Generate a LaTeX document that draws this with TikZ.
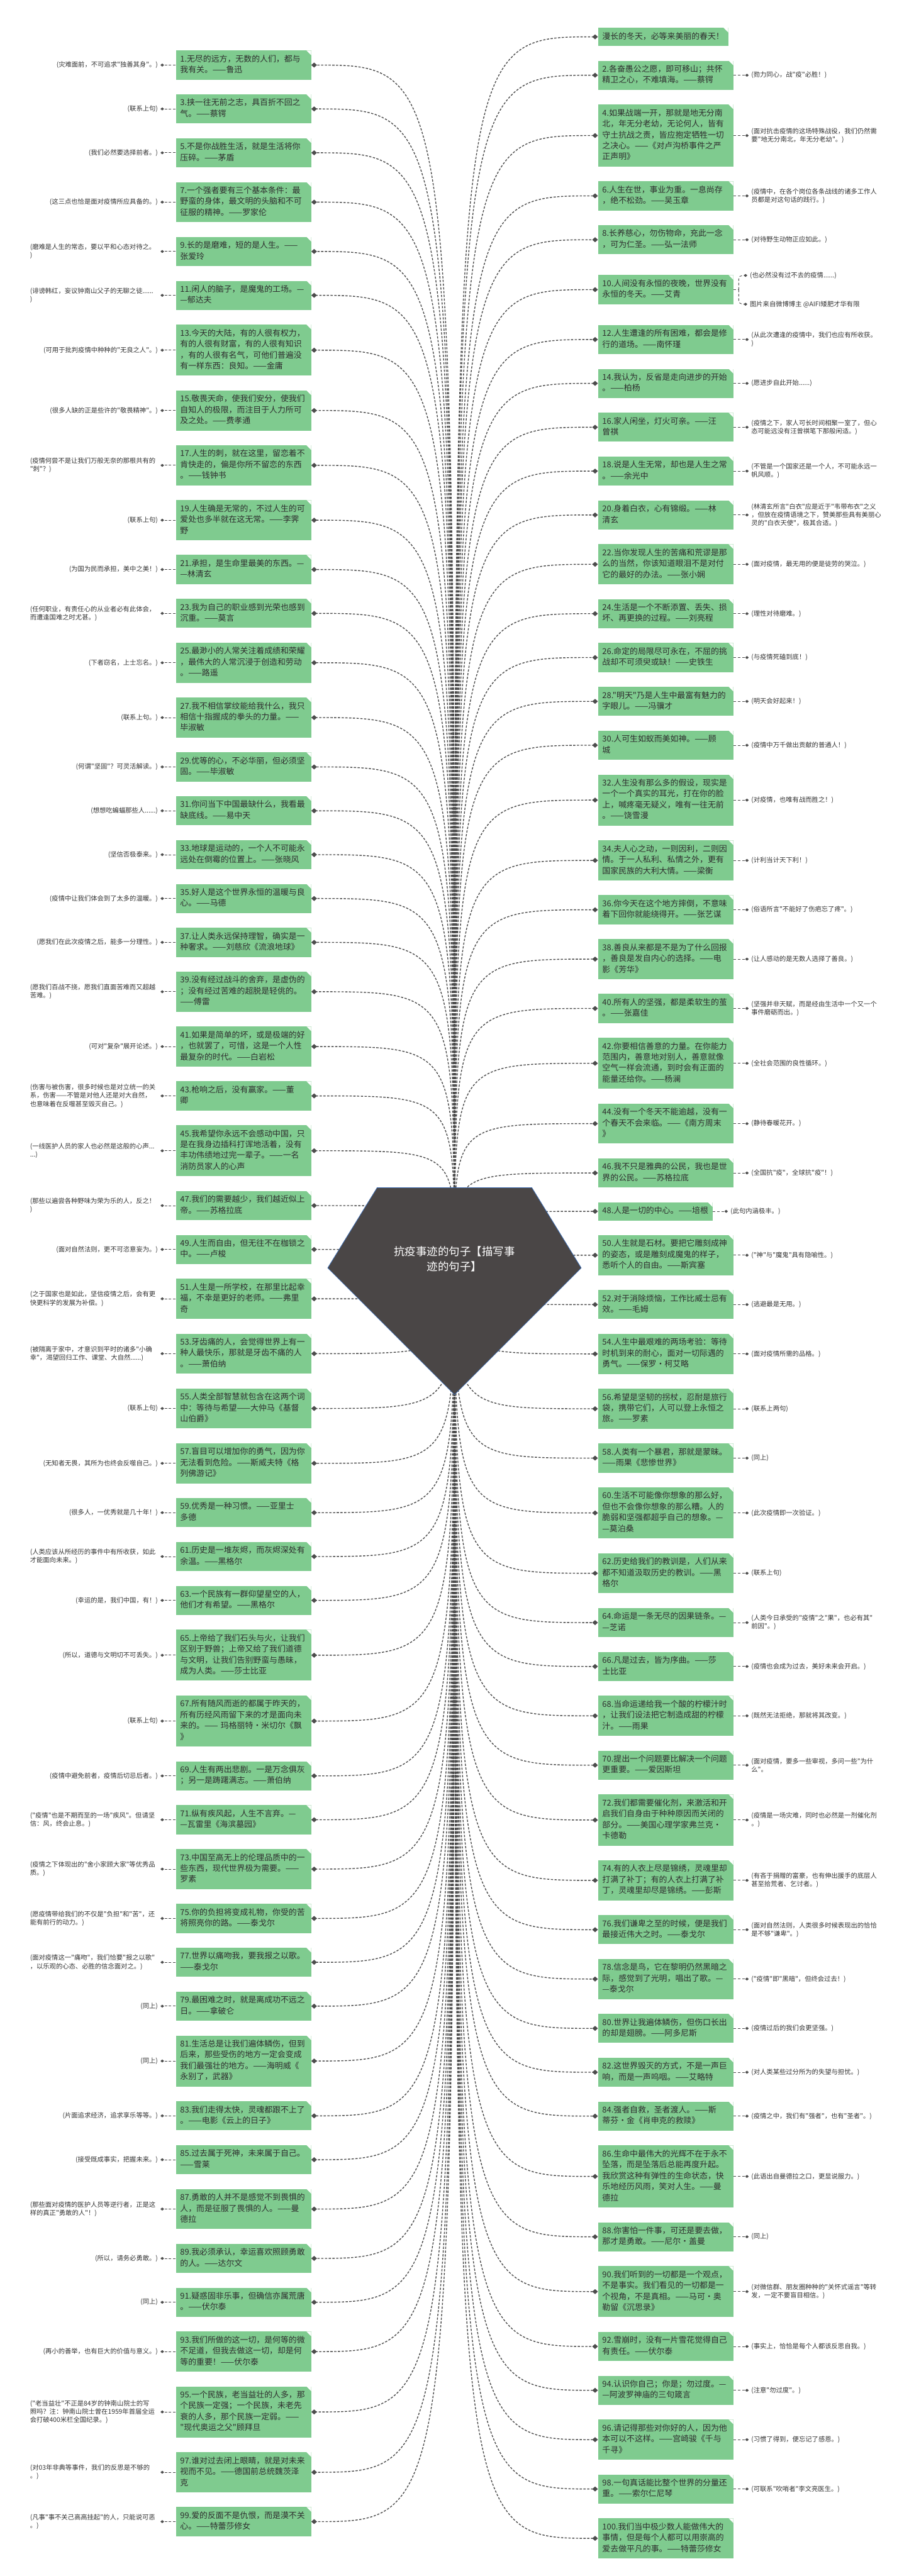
\documentclass[tikz,border=0pt]{standalone}
\usepackage{fontspec}
\newfontfamily\cjk{Noto Sans CJK SC}
\usetikzlibrary{positioning,arrows.meta,backgrounds}
\definecolor{leaf}{HTML}{7FCB8F}
\definecolor{ink}{HTML}{2E2E2E}
\definecolor{slate}{HTML}{4A4646}
\definecolor{rim}{HTML}{3D6DB3}
\definecolor{wire}{HTML}{4D4D4D}
\definecolor{memo}{HTML}{333333}
\tikzset{leafbox/.style={fill=leaf,text=ink,align=left,inner xsep=.24cm,inner ysep=.2cm,font=\cjk\fontsize{13}{17.6}\selectfont,execute at begin node=\strut,execute at end node=\strut,path picture={\fill[white] (path picture bounding box.north east) -- ++(-.26,0) -- ++(.26,-.26) -- cycle;}},quote/.style={leafbox,text width=7.14cm},note/.style={text=memo,align=left,inner sep=.14cm,font=\cjk\fontsize{10.4}{13.2}\selectfont},wide note/.style={note,text width=7.2cm},hub/.style={text=white,align=center,font=\cjk\fontsize{17.6}{24.4}\selectfont},link/.style={draw=wire,line width=1.4pt,dash pattern=on 3.6pt off 2.4pt,-{Diamond[length=.32cm,width=.28cm]}},notedash/.style={draw=wire,line width=.9pt,dash pattern=on 4pt off 3pt},notelink/.style={notedash,-{Diamond[length=.2cm,width=.17cm]}}}

\begin{document}
\begin{tikzpicture}[node distance=.82cm]
\useasboundingbox (0,0) rectangle (51.2,-145.14);
% centre
\filldraw[fill=slate,draw=rim,line width=.8pt] (21.24,-66.92) -- (29.96,-66.92) -- (32.74,-71.44) -- (25.6,-78.58) -- (18.46,-71.44) -- cycle;
\node[hub] (hub) at (25.6,-70.92) {抗疫事迹的句子【描写事\\迹的句子】};
% left column
\node[quote,anchor=north west] (q1) at (9.9,-2.84) {1.无尽的远方，无数的人们，都与\\我有关。——鲁迅};
\node[quote,below=of q1] (q3) {3.挟一往无前之志，具百折不回之\\气。——蔡锷};
\node[quote,below=of q3] (q5) {5.不是你战胜生活，就是生活将你\\压碎。——茅盾};
\node[quote,below=of q5] (q7) {7.一个强者要有三个基本条件：最\\野蛮的身体，最文明的头脑和不可\\征服的精神。——罗家伦};
\node[quote,below=of q7] (q9) {9.长的是磨难，短的是人生。——\\张爱玲};
\node[quote,below=of q9] (q11) {11.闲人的脑子，是魔鬼的工场。—\\—郁达夫};
\node[quote,below=of q11] (q13) {13.今天的大陆，有的人很有权力，\\有的人很有财富，有的人很有知识\\，有的人很有名气，可他们普遍没\\有一样东西：良知。——金庸};
\node[quote,below=of q13] (q15) {15.敬畏天命，使我们安分，使我们\\自知人的极限，而注目于人力所可\\及之处。——费孝通};
\node[quote,below=of q15] (q17) {17.人生的刺，就在这里，留恋着不\\肯快走的，偏是你所不留恋的东西\\。——钱钟书};
\node[quote,below=of q17] (q19) {19.人生确是无常的，不过人生的可\\爱处也多半就在这无常。——李霁\\野};
\node[quote,below=of q19] (q21) {21.承担，是生命里最美的东西。—\\—林清玄};
\node[quote,below=of q21] (q23) {23.我为自己的职业感到光荣也感到\\沉重。——莫言};
\node[quote,below=of q23] (q25) {25.最渺小的人常关注着成绩和荣耀\\，最伟大的人常沉浸于创造和劳动\\。——路遥};
\node[quote,below=of q25] (q27) {27.我不相信掌纹能给我什么，我只\\相信十指握成的拳头的力量。——\\毕淑敏};
\node[quote,below=of q27] (q29) {29.优等的心，不必华丽，但必须坚\\固。——毕淑敏};
\node[quote,below=of q29] (q31) {31.你问当下中国最缺什么，我看最\\缺底线。——易中天};
\node[quote,below=of q31] (q33) {33.地球是运动的，一个人不可能永\\远处在倒霉的位置上。——张晓风};
\node[quote,below=of q33] (q35) {35.好人是这个世界永恒的温暖与良\\心。——马德};
\node[quote,below=of q35] (q37) {37.让人类永远保持理智，确实是一\\种奢求。——刘慈欣《流浪地球》};
\node[quote,below=of q37] (q39) {39.没有经过战斗的舍弃，是虚伪的\\；没有经过苦难的超脱是轻佻的。\\——傅雷};
\node[quote,below=of q39] (q41) {41.如果是简单的坏，或是极端的好\\，也就罢了，可惜，这是一个人性\\最复杂的时代。——白岩松};
\node[quote,below=of q41] (q43) {43.枪响之后，没有赢家。——董\\卿};
\node[quote,below=of q43] (q45) {45.我希望你永远不会感动中国，只\\是在我身边插科打诨地活着，没有\\丰功伟绩地过完一辈子。——一名\\消防员家人的心声};
\node[quote,below=of q45] (q47) {47.我们的需要越少，我们越近似上\\帝。——苏格拉底};
\node[quote,below=of q47] (q49) {49.人生而自由，但无往不在枷锁之\\中。——卢梭};
\node[quote,below=of q49] (q51) {51.人生是一所学校，在那里比起幸\\福，不幸是更好的老师。——弗里\\奇};
\node[quote,below=of q51] (q53) {53.牙齿痛的人，会觉得世界上有一\\种人最快乐，那就是牙齿不痛的人\\。——萧伯纳};
\node[quote,below=of q53] (q55) {55.人类全部智慧就包含在这两个词\\中：等待与希望——大仲马《基督\\山伯爵》};
\node[quote,below=of q55] (q57) {57.盲目可以增加你的勇气，因为你\\无法看到危险。——斯威夫特《格\\列佛游记》};
\node[quote,below=of q57] (q59) {59.优秀是一种习惯。——亚里士\\多德};
\node[quote,below=of q59] (q61) {61.历史是一堆灰烬，而灰烬深处有\\余温。——黑格尔};
\node[quote,below=of q61] (q63) {63.一个民族有一群仰望星空的人，\\他们才有希望。——黑格尔};
\node[quote,below=of q63] (q65) {65.上帝给了我们石头与火，让我们\\区别于野兽；上帝又给了我们道德\\与文明，让我们告别野蛮与愚昧，\\成为人类。——莎士比亚};
\node[quote,below=of q65] (q67) {67.所有随风而逝的都属于昨天的，\\所有历经风雨留下来的才是面向未\\来的。——~玛格丽特•米切尔《飘\\》};
\node[quote,below=of q67] (q69) {69.人生有两出悲剧。一是万念俱灰\\；另一是踌躇满志。——萧伯纳};
\node[quote,below=of q69] (q71) {71.纵有疾风起，人生不言弃。—\\—瓦雷里《海滨墓园》};
\node[quote,below=of q71] (q73) {73.中国至高无上的伦理品质中的一\\些东西，现代世界极为需要。——\\罗素};
\node[quote,below=of q73] (q75) {75.你的负担将变成礼物，你受的苦\\将照亮你的路。——泰戈尔};
\node[quote,below=of q75] (q77) {77.世界以痛吻我，要我报之以歌。\\——泰戈尔};
\node[quote,below=of q77] (q79) {79.最困难之时，就是离成功不远之\\日。——拿破仑};
\node[quote,below=of q79] (q81) {81.生活总是让我们遍体鳞伤，但到\\后来，那些受伤的地方一定会变成\\我们最强壮的地方。——海明威《\\永别了，武器》};
\node[quote,below=of q81] (q83) {83.我们走得太快，灵魂都跟不上了\\。——电影《云上的日子》};
\node[quote,below=of q83] (q85) {85.过去属于死神，未来属于自己。\\——雪莱};
\node[quote,below=of q85] (q87) {87.勇敢的人并不是感觉不到畏惧的\\人，而是征服了畏惧的人。——曼\\德拉};
\node[quote,below=of q87] (q89) {89.我必须承认，幸运喜欢照顾勇敢\\的人。——达尔文};
\node[quote,below=of q89] (q91) {91.疑惑固非乐事，但确信亦属荒唐\\。——伏尔泰};
\node[quote,below=of q91] (q93) {93.我们所做的这一切，是何等的微\\不足道，但我去做这一切，却是何\\等的重要！——伏尔泰};
\node[quote,below=of q93] (q95) {95.一个民族，老当益壮的人多，那\\个民族一定强；一个民族，未老先\\衰的人多，那个民族一定弱。——\\"现代奥运之父"顾拜旦};
\node[quote,below=of q95] (q97) {97.谁对过去闭上眼睛，就是对未来\\视而不见。——德国前总统魏茨泽\\克};
\node[quote,below=of q97] (q99) {99.爱的反面不是仇恨，而是漠不关\\心。——特蕾莎修女};
% right column
\node[leafbox,anchor=north west] (q0) at (33.68,-1.56) {漫长的冬天，必等来美丽的春天！};
\node[quote,below=of q0.south west,anchor=north west] (q2) {2.各奋愚公之愿，即可移山；共怀\\精卫之心，不难填海。——蔡锷};
\node[quote,below=of q2] (q4) {4.如果战端一开，那就是地无分南\\北，年无分老幼，无论何人，皆有\\守土抗战之责，皆应抱定牺牲一切\\之决心。——《对卢沟桥事件之严\\正声明》};
\node[quote,below=of q4] (q6) {6.人生在世，事业为重。一息尚存\\，绝不松劲。——吴玉章};
\node[quote,below=of q6] (q8) {8.长养慈心，勿伤物命，充此一念\\，可为仁圣。——弘一法师};
\node[quote,below=1.16cm of q8] (q10) {10.人间没有永恒的夜晚，世界没有\\永恒的冬天。——艾青};
\node[quote,below=1.16cm of q10] (q12) {12.人生遭逢的所有困难，都会是修\\行的道场。——南怀瑾};
\node[quote,below=of q12] (q14) {14.我认为，反省是走向进步的开始\\。——柏杨};
\node[quote,below=of q14] (q16) {16.家人闲坐，灯火可亲。——汪\\曾祺};
\node[quote,below=of q16] (q18) {18.说是人生无常，却也是人生之常\\。——余光中};
\node[quote,below=of q18] (q20) {20.身着白衣，心有锦缎。——林\\清玄};
\node[quote,below=of q20] (q22) {22.当你发现人生的苦痛和荒谬是那\\么的当然，你该知道眼泪不是对付\\它的最好的办法。——张小娴};
\node[quote,below=of q22] (q24) {24.生活是一个不断添置、丢失、损\\坏、再更换的过程。——刘亮程};
\node[quote,below=of q24] (q26) {26.命定的局限尽可永在，不屈的挑\\战却不可须臾或缺！——史铁生};
\node[quote,below=of q26] (q28) {28."明天"乃是人生中最富有魅力的\\字眼儿。——冯骥才};
\node[quote,below=of q28] (q30) {30.人可生如蚁而美如神。——顾\\城};
\node[quote,below=of q30] (q32) {32.人生没有那么多的假设，现实是\\一个一个真实的耳光，打在你的脸\\上，喊疼毫无疑义，唯有一往无前\\。——饶雪漫};
\node[quote,below=of q32] (q34) {34.夫人心之动，一则因利，二则因\\情。于一人私利、私情之外，更有\\国家民族的大利大情。——梁衡};
\node[quote,below=of q34] (q36) {36.你今天在这个地方摔倒，不意味\\着下回你就能绕得开。——张艺谋};
\node[quote,below=of q36] (q38) {38.善良从来都是不是为了什么回报\\，善良是发自内心的选择。——电\\影《芳华》};
\node[quote,below=of q38] (q40) {40.所有人的坚强，都是柔软生的茧\\。——张嘉佳};
\node[quote,below=of q40] (q42) {42.你要相信善意的力量。在你能力\\范围内，善意地对别人，善意就像\\空气一样会流通，到时会有正面的\\能量还给你。——杨澜};
\node[quote,below=of q42] (q44) {44.没有一个冬天不能逾越，没有一\\个春天不会来临。——《南方周末\\》};
\node[quote,below=of q44] (q46) {46.我不只是雅典的公民，我也是世\\界的公民。——苏格拉底};
\node[leafbox,below=of q46.south west,anchor=north west] (q48) {48.人是一切的中心。——培根};
\node[quote,below=of q48.south west,anchor=north west] (q50) {50.人生就是石材。要把它雕刻成神\\的姿态，或是雕刻成魔鬼的样子，\\悉听个人的自由。——斯宾塞};
\node[quote,below=of q50] (q52) {52.对于消除烦恼，工作比威士忌有\\效。——毛姆};
\node[quote,below=of q52] (q54) {54.人生中最艰难的两场考验：等待\\时机到来的耐心，面对一切际遇的\\勇气。——保罗•柯艾略};
\node[quote,below=of q54] (q56) {56.希望是坚韧的拐杖，忍耐是旅行\\袋，携带它们，人可以登上永恒之\\旅。——罗素};
\node[quote,below=of q56] (q58) {58.人类有一个暴君，那就是蒙昧。\\——雨果《悲惨世界》};
\node[quote,below=of q58] (q60) {60.生活不可能像你想象的那么好，\\但也不会像你想象的那么糟。人的\\脆弱和坚强都超乎自己的想象。—\\—莫泊桑};
\node[quote,below=of q60] (q62) {62.历史给我们的教训是，人们从来\\都不知道汲取历史的教训。——黑\\格尔};
\node[quote,below=of q62] (q64) {64.命运是一条无尽的因果链条。—\\—芝诺};
\node[quote,below=of q64] (q66) {66.凡是过去，皆为序曲。——莎\\士比亚};
\node[quote,below=of q66] (q68) {68.当命运递给我一个酸的柠檬汁时\\，让我们设法把它制造成甜的柠檬\\汁。——雨果};
\node[quote,below=of q68] (q70) {70.提出一个问题要比解决一个问题\\更重要。——爱因斯坦};
\node[quote,below=of q70] (q72) {72.我们都需要催化剂，来激活和开\\启我们自身由于种种原因而关闭的\\部分。——美国心理学家弗兰克•\\卡德勒};
\node[quote,below=of q72] (q74) {74.有的人衣上尽是锦绣，灵魂里却\\打满了补丁；有的人衣上打满了补\\丁，灵魂里却尽是锦绣。——彭斯};
\node[quote,below=of q74] (q76) {76.我们谦卑之至的时候，便是我们\\最接近伟大之时。——泰戈尔};
\node[quote,below=of q76] (q78) {78.信念是鸟，它在黎明仍然黑暗之\\际，感觉到了光明，唱出了歌。—\\—泰戈尔};
\node[quote,below=of q78] (q80) {80.世界让我遍体鳞伤，但伤口长出\\的却是翅膀。——阿多尼斯};
\node[quote,below=of q80] (q82) {82.这世界毁灭的方式，不是一声巨\\响，而是一声呜咽。——艾略特};
\node[quote,below=of q82] (q84) {84.强者自救，圣者渡人。——斯\\蒂芬•金《肖申克的救赎》};
\node[quote,below=of q84] (q86) {86.生命中最伟大的光辉不在于永不\\坠落，而是坠落后总能再度升起。\\我欣赏这种有弹性的生命状态，快\\乐地经历风雨，笑对人生。——曼\\德拉};
\node[quote,below=of q86] (q88) {88.你害怕一件事，可还是要去做，\\那才是勇敢。——尼尔•盖曼};
\node[quote,below=of q88] (q90) {90.我们听到的一切都是一个观点，\\不是事实。我们看见的一切都是一\\个视角，不是真相。——马可•奥\\勒留《沉思录》};
\node[quote,below=of q90] (q92) {92.雪崩时，没有一片雪花觉得自己\\有责任。——伏尔泰};
\node[quote,below=of q92] (q94) {94.认识你自己；你是；勿过度。—\\—阿波罗神庙的三句箴言};
\node[quote,below=of q94] (q96) {96.请记得那些对你好的人，因为他\\本可以不这样。——宫崎骏《千与\\千寻》};
\node[quote,below=of q96] (q98) {98.一句真话能比整个世界的分量还\\重。——索尔仁尼琴};
\node[quote,below=of q98] (q100) {100.我们当中极少数人能做伟大的\\事情，但是每个人都可以用崇高的\\爱去做平凡的事。——特蕾莎修女};
% notes, left
\node[note,left=.86cm of q1] (n1) {(灾难面前，不可追求"独善其身"。)};
\node[note,left=.86cm of q3] (n3) {(联系上句)};
\node[note,left=.86cm of q5] (n5) {(我们必然要选择前者。)};
\node[note,left=.86cm of q7] (n7) {(这三点也恰是面对疫情所应具备的。)};
\node[wide note,left=.86cm of q9] (n9) {(磨难是人生的常态，要以平和心态对待之。\\)};
\node[wide note,left=.86cm of q11] (n11) {(诽谤韩红，妄议钟南山父子的无聊之徒......\\)};
\node[note,left=.86cm of q13] (n13) {(可用于批判疫情中种种的"无良之人"。)};
\node[note,left=.86cm of q15] (n15) {(很多人缺的正是些许的"敬畏精神"。)};
\node[wide note,left=.86cm of q17] (n17) {(疫情何尝不是让我们万般无奈的那根共有的\\"刺"？)};
\node[note,left=.86cm of q19] (n19) {(联系上句)};
\node[note,left=.86cm of q21] (n21) {(为国为民而承担，美中之美！)};
\node[wide note,left=.86cm of q23] (n23) {(任何职业，有责任心的从业者必有此体会，\\而遭逢国难之时尤甚。)};
\node[note,left=.86cm of q25] (n25) {(下者窃名，上士忘名。)};
\node[note,left=.86cm of q27] (n27) {(联系上句。)};
\node[note,left=.86cm of q29] (n29) {(何谓"坚固"？可灵活解读。)};
\node[note,left=.86cm of q31] (n31) {(想想吃蝙蝠那些人......)};
\node[note,left=.86cm of q33] (n33) {(坚信否极泰来。)};
\node[note,left=.86cm of q35] (n35) {(疫情中让我们体会到了太多的温暖。)};
\node[note,left=.86cm of q37] (n37) {(愿我们在此次疫情之后，能多一分理性。)};
\node[wide note,left=.86cm of q39] (n39) {(愿我们百战不挠，愿我们直面苦难而又超越\\苦难。)};
\node[note,left=.86cm of q41] (n41) {(可对"复杂"展开论述。)};
\node[wide note,left=.86cm of q43] (n43) {(伤害与被伤害，很多时候也是对立统一的关\\系，伤害——不管是对他人还是对大自然，\\也意味着在反噬甚至毁灭自己。)};
\node[wide note,left=.86cm of q45] (n45) {(一线医护人员的家人也必然是这般的心声...\\...)};
\node[wide note,left=.86cm of q47] (n47) {(那些以遍尝各种野味为荣为乐的人，反之！\\)};
\node[note,left=.86cm of q49] (n49) {(面对自然法则，更不可恣意妄为。)};
\node[wide note,left=.86cm of q51] (n51) {(之于国家也是如此，坚信疫情之后，会有更\\快更科学的发展为补偿。)};
\node[wide note,left=.86cm of q53] (n53) {(被隔离于家中，才意识到平时的诸多"小确\\幸"，渴望回归工作、课堂、大自然......)};
\node[note,left=.86cm of q55] (n55) {(联系上句)};
\node[note,left=.86cm of q57] (n57) {(无知者无畏，其所为也终会反噬自己。)};
\node[note,left=.86cm of q59] (n59) {(很多人，一优秀就是几十年！)};
\node[wide note,left=.86cm of q61] (n61) {(人类应该从所经历的事件中有所收获，如此\\才能面向未来。)};
\node[note,left=.86cm of q63] (n63) {(幸运的是，我们中国，有！)};
\node[note,left=.86cm of q65] (n65) {(所以，道德与文明切不可丢失。)};
\node[note,left=.86cm of q67] (n67) {(联系上句)};
\node[note,left=.86cm of q69] (n69) {(疫情中避免前者，疫情后切忌后者。)};
\node[wide note,left=.86cm of q71] (n71) {("疫情"也是不期而至的一场"疾风"。但请坚\\信：风，终会止息。)};
\node[wide note,left=.86cm of q73] (n73) {(疫情之下体现出的"舍小家顾大家"等优秀品\\质。)};
\node[wide note,left=.86cm of q75] (n75) {(愿疫情带给我们的不仅是"负担"和"苦"，还\\能有前行的动力。)};
\node[wide note,left=.86cm of q77] (n77) {(面对疫情这一"痛吻"，我们恰要"报之以歌"\\，以乐观的心态、必胜的信念面对之。)};
\node[note,left=.86cm of q79] (n79) {(同上)};
\node[note,left=.86cm of q81] (n81) {(同上)};
\node[note,left=.86cm of q83] (n83) {(片面追求经济，追求享乐等等。)};
\node[note,left=.86cm of q85] (n85) {(接受既成事实，把握未来。)};
\node[wide note,left=.86cm of q87] (n87) {(那些面对疫情的医护人员等逆行者，正是这\\样的真正"勇敢的人"！)};
\node[note,left=.86cm of q89] (n89) {(所以，请务必勇敢。)};
\node[note,left=.86cm of q91] (n91) {(同上)};
\node[note,left=.86cm of q93] (n93) {(再小的善举，也有巨大的价值与意义。)};
\node[wide note,left=.86cm of q95] (n95) {("老当益壮"不正是84岁的钟南山院士的写\\照吗？注：钟南山院士曾在1959年首届全运\\会打破400米栏全国纪录。)};
\node[wide note,left=.86cm of q97] (n97) {(对03年非典等事件，我们的反思是不够的\\。)};
\node[wide note,left=.86cm of q99] (n99) {(凡事"事不关己高高挂起"的人，只能说可恶\\。)};
% notes, right
\node[note,right=.86cm of q2] (n2) {(勠力同心，战"疫"必胜！)};
\node[wide note,right=.86cm of q4] (n4) {(面对抗击疫情的这场特殊战役，我们仍然需\\要"地无分南北，年无分老幼"。)};
\node[wide note,right=.86cm of q6] (n6) {(疫情中，在各个岗位各条战线的诸多工作人\\员都是对这句话的践行。)};
\node[note,right=.86cm of q8] (n8) {(对待野生动物正应如此。)};
\node[note,right=.78cm of q10,yshift=.8cm] (n10a) {(也必然没有过不去的疫情......)};
\node[note,right=.78cm of q10,yshift=-.82cm] (n10b) {图片来自微博博主 @AIFI矮肥才华有限};
\node[wide note,right=.86cm of q12] (n12) {(从此次遭逢的疫情中，我们也应有所收获。\\)};
\node[note,right=.86cm of q14] (n14) {(愿进步自此开始......)};
\node[wide note,right=.86cm of q16] (n16) {(疫情之下，家人可长时间相聚一室了，但心\\态可能远没有汪曾祺笔下那般闲适。)};
\node[wide note,right=.86cm of q18] (n18) {(不管是一个国家还是一个人，不可能永远一\\帆风顺。)};
\node[wide note,right=.86cm of q20] (n20) {(林清玄所言"白衣"应是近于"韦带布衣"之义\\，但放在疫情语境之下，赞美那些具有美丽心\\灵的"白衣天使"，极其合适。)};
\node[note,right=.86cm of q22] (n22) {(面对疫情，最无用的便是徒劳的哭泣。)};
\node[note,right=.86cm of q24] (n24) {(理性对待磨难。)};
\node[note,right=.86cm of q26] (n26) {(与疫情死磕到底！)};
\node[note,right=.86cm of q28] (n28) {(明天会好起来！)};
\node[note,right=.86cm of q30] (n30) {(疫情中万千做出贡献的普通人！)};
\node[note,right=.86cm of q32] (n32) {(对疫情，也唯有战而胜之！)};
\node[note,right=.86cm of q34] (n34) {(计利当计天下利！)};
\node[note,right=.86cm of q36] (n36) {(俗语所言"不能好了伤疤忘了疼"。)};
\node[note,right=.86cm of q38] (n38) {(让人感动的是无数人选择了善良。)};
\node[wide note,right=.86cm of q40] (n40) {(坚强并非天赋，而是经由生活中一个又一个\\事件磨砺而出。)};
\node[note,right=.86cm of q42] (n42) {(全社会范围的良性循环。)};
\node[note,right=.86cm of q44] (n44) {(静待春暖花开。)};
\node[note,right=.86cm of q46] (n46) {(全国抗"疫"，全球抗"疫"！)};
\node[note,right=.86cm of q48] (n48) {(此句内涵极丰。)};
\node[note,right=.86cm of q50] (n50) {("神"与"魔鬼"具有隐喻性。)};
\node[note,right=.86cm of q52] (n52) {(逃避最是无用。)};
\node[note,right=.86cm of q54] (n54) {(面对疫情所需的品格。)};
\node[note,right=.86cm of q56] (n56) {(联系上两句)};
\node[note,right=.86cm of q58] (n58) {(同上)};
\node[note,right=.86cm of q60] (n60) {(此次疫情即一次验证。)};
\node[note,right=.86cm of q62] (n62) {(联系上句)};
\node[wide note,right=.86cm of q64] (n64) {(人类今日承受的"疫情"之"果"，也必有其"\\前因"。)};
\node[note,right=.86cm of q66] (n66) {(疫情也会成为过去，美好未来会开启。)};
\node[note,right=.86cm of q68] (n68) {(既然无法拒绝，那就将其改变。)};
\node[wide note,right=.86cm of q70] (n70) {(面对疫情，要多一些审视，多问一些"为什\\么"。};
\node[wide note,right=.86cm of q72] (n72) {(疫情是一场灾难，同时也必然是一剂催化剂\\。)};
\node[wide note,right=.86cm of q74] (n74) {(有吝于捐赠的富豪，也有伸出援手的底层人\\甚至拾荒者、乞讨者。)};
\node[wide note,right=.86cm of q76] (n76) {(面对自然法则，人类很多时候表现出的恰恰\\是不够"谦卑"。)};
\node[note,right=.86cm of q78] (n78) {("疫情"即"黑暗"，但终会过去！)};
\node[note,right=.86cm of q80] (n80) {(疫情过后的我们会更坚强。)};
\node[note,right=.86cm of q82] (n82) {(对人类某些过分所为的失望与担忧。)};
\node[note,right=.86cm of q84] (n84) {(疫情之中，我们有"强者"，也有"圣者"。)};
\node[note,right=.86cm of q86] (n86) {(此语出自曼德拉之口，更显说服力。)};
\node[note,right=.86cm of q88] (n88) {(同上)};
\node[wide note,right=.86cm of q90] (n90) {(对微信群、朋友圈种种的"关怀式谣言"等转\\发，一定不要盲目相信。)};
\node[note,right=.86cm of q92] (n92) {(事实上，恰恰是每个人都该反思自我。)};
\node[note,right=.86cm of q94] (n94) {(注意"勿过度"。)};
\node[note,right=.86cm of q96] (n96) {(习惯了得到，便忘记了感恩。)};
\node[note,right=.86cm of q98] (n98) {(可联系"吹哨者"李文亮医生。)};
% connectors
\begin{scope}[on background layer]
\fill[white] (0,0) rectangle (51.2,-145.14);
\foreach \i in {1,3,...,99}\draw[link] (hub.center) .. controls (hub.center |- q\i.east) .. (q\i.east);
\foreach \i in {0,2,...,100}\draw[link] (hub.center) .. controls (hub.center |- q\i.west) .. (q\i.west);
\foreach \i in {1,3,...,99}\draw[notelink] (q\i.west) -- (n\i.east);
\foreach \i in {2,4,6,8,12,14,...,98}\draw[notelink] (q\i.east) -- (n\i.west);
\draw[notedash] (q10.east) -- ++(.3,0) coordinate (k10);
\draw[notelink,rounded corners=.2cm] (k10) |- (n10a.west);
\draw[notelink,rounded corners=.2cm] (k10) |- (n10b.west);
\end{scope}
\end{tikzpicture}
\end{document}
